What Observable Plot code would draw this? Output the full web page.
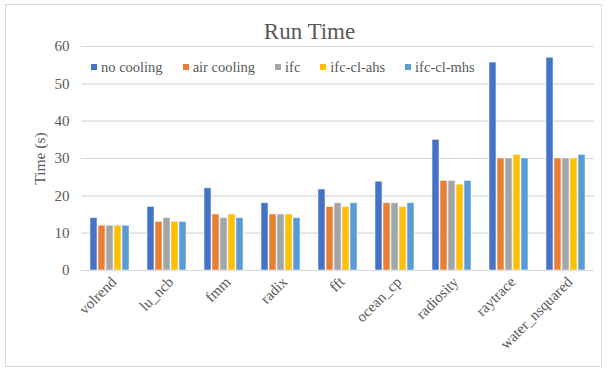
<!DOCTYPE html>
<html><head><meta charset="utf-8">
<script src="https://cdn.jsdelivr.net/npm/d3@7"></script>
<script src="https://cdn.jsdelivr.net/npm/@observablehq/plot@0.6"></script>
<style>
body{margin:0;background:#fff;}
#chart{position:relative;width:607px;height:370px;font-family:"Liberation Serif","Times New Roman",serif;}
#frame{position:absolute;left:5px;top:4px;width:597px;height:363px;border:1px solid #d9d9d9;box-sizing:border-box;}
#title{position:absolute;left:6px;width:607px;top:20px;text-align:center;font-size:23px;color:#595959;line-height:1;font-family:"Liberation Serif","Times New Roman",serif;}
#legend{position:absolute;left:91px;top:59px;display:flex;font-size:14.5px;color:#595959;line-height:16px;font-family:"Liberation Serif","Times New Roman",serif;}
#legend .item{display:flex;align-items:center;margin-right:20px;}
#legend .sw{width:6px;height:6px;margin-right:4px;}
#plot{position:absolute;left:0;top:0;}
</style></head>
<body><div id="chart"><div id="frame"></div><div id="plot"></div><div id="title">Run Time</div><div id="legend"></div></div>
<script>
const benchmarks = ["volrend","lu_ncb","fmm","radix","fft","ocean_cp","radiosity","raytrace","water_nsquared"];
const series = ["no cooling","air cooling","ifc","ifc-cl-ahs","ifc-cl-mhs"];
const noCooling = [14,17,22,18,21.7,23.8,35,55.7,57];
const airCooling = [12,13,15,15,17,18,24,30,30];
const ifc = [12,14,14,15,18,18,24,30,30];
const ifcClAhs = [12,13,15,15,17,17,23,31,30];
const ifcClMhs = [12,13,14,14,18,18,24,30,31];
const colors = ["#4472C4","#ED7D31","#A5A5A5","#FFC000","#5B9BD5"];
const yTicks = [0,10,20,30,40,50,60];

const valuesBySeries = [noCooling, airCooling, ifc, ifcClAhs, ifcClMhs];
const data = [];
benchmarks.forEach((b, i) => series.forEach((s, j) => data.push({bench: b, series: s, value: valuesBySeries[j][i]})));

const font = '"Liberation Serif","Times New Roman",serif';
const chart = Plot.plot({
  width: 607, height: 370,
  marginLeft: 80, marginRight: 13, marginTop: 46, marginBottom: 100,
  style: {fontFamily: font, fontSize: "15px", color: "#595959", background: "transparent", overflow: "visible"},
  fx: {domain: benchmarks, padding: 0, label: null},
  x: {domain: series, paddingInner: 0.1, paddingOuter: 0.96, axis: null},
  y: {domain: [0, 60]},
  color: {domain: series, range: colors},
  marks: [
    Plot.ruleY(yTicks, {stroke: "#d9d9d9", strokeWidth: 1.2}),
    Plot.barY(data, {fx: "bench", x: "series", y: "value", fill: "series", stroke: "#eef2f8", strokeWidth: 0.6}),
    Plot.axisY({ticks: yTicks, tickSize: 0, tickPadding: 12, fontSize: 15, label: null}),
    Plot.axisY({ticks: [], tickSize: 0, label: "Time (s)", labelArrow: "none", labelAnchor: "center", labelOffset: 48, fontSize: 15.5}),
    Plot.axisFx({tickRotate: -45, tickSize: 0, tickPadding: 9, dx: 4, fontSize: 15, label: null, anchor: "bottom"})
  ]
});
document.getElementById("plot").appendChild(chart);

const legend = document.getElementById("legend");
series.forEach((s, i) => {
  const item = document.createElement("div");
  item.className = "item";
  const sw = document.createElement("div");
  sw.className = "sw";
  sw.style.background = colors[i];
  const t = document.createElement("span");
  t.textContent = s;
  item.appendChild(sw); item.appendChild(t);
  legend.appendChild(item);
});
</script>
</body></html>
